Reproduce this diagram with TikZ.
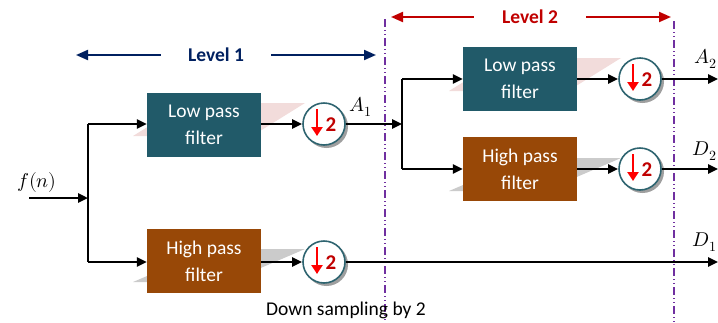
\documentclass[tikz,border=0pt]{standalone}
\usepackage{fontspec}
\usepackage{unicode-math}
\setmathfont{Latin Modern Math}
\setsansfont{Carlito}
\usetikzlibrary{arrows.meta,calc}
\definecolor{lowcol}{HTML}{215A69}
\definecolor{highcol}{HTML}{984807}
\definecolor{ringcol}{HTML}{2E6470}
\definecolor{navycol}{HTML}{002060}
\definecolor{darkred}{HTML}{C00000}
\definecolor{violetcol}{HTML}{7030A0}
\definecolor{pinkshade}{HTML}{F2DCDB}
\definecolor{greyshade}{HTML}{CBCBCB}
\tikzset{
  filterbox/.style={minimum width=114pt, minimum height=64pt, inner sep=0pt,
    text=white, align=center, font=\sffamily\fontsize{19.5}{27}\selectfont},
  lowbox/.style={filterbox, fill=lowcol},
  highbox/.style={filterbox, fill=highcol},
  ring/.style={circle, draw=ringcol, line width=1.6pt, fill=white,
    minimum size=42pt, inner sep=0pt},
  flow/.style={line width=2.4pt, -{Triangle[length=10pt,width=9pt]}},
  wire/.style={line width=2.4pt},
  levelline/.style={line width=2pt, -{Triangle[length=12pt,width=10pt]}},
  levellabel/.style={font=\sffamily\bfseries\fontsize{19.5}{22}\selectfont},
  divider/.style={violetcol, line width=1.1pt,
    dash pattern=on 8pt off 3pt on 1pt off 3pt on 1pt off 3pt},
  sig/.style={font=\fontsize{20}{22}\selectfont, inner sep=1pt},
  downarrow/.style={red, line width=2.6pt, -{Triangle[length=9pt,width=11pt]}},
  two/.style={text=darkred, font=\sffamily\bfseries\fontsize{21}{22}\selectfont, inner sep=0pt}
}
% down-sampler: ring with shadow, red arrow and a bold 2
\newcommand{\downsampler}[2]{%
  \fill[gray!75] (#2) ++(2.5,2.5) circle (21.5pt);
  \node[ring] (#1) at (#2) {};
  \draw[downarrow] ($(#1.center)+(-7,-15)$) -- ($(#1.center)+(-7,12)$);
  \node[two] (#1two) at ($(#1.center)+(7,1)$) {2};
}
\begin{document}
\begin{tikzpicture}[x=1pt,y=-1pt]
\useasboundingbox (0,0) rectangle (718,322);

% level dividers
\coordinate (divAtop) at (385,19);
\coordinate (divAbot) at (385,322);
\coordinate (divBtop) at (674,21);
\coordinate (divBbot) at (674,322);
\draw[divider] (divAtop) -- (divAbot);
\draw[divider] (divBtop) -- (divBbot);

% level headings
\node[levellabel, text=navycol] (lev1) at (216,55) {Level 1};
\coordinate (lev1L) at (76,55);
\coordinate (lev1R) at (376,55);
\draw[levelline, navycol] ($(lev1.west)+(-24,0)$) -- (lev1L);
\draw[levelline, navycol] ($(lev1.east)+(24,0)$) -- (lev1R);
\node[levellabel, text=darkred] (lev2) at (530,17) {Level 2};
\coordinate (lev2L) at (391,17);
\coordinate (lev2R) at (671,17);
\draw[levelline, darkred] ($(lev2.west)+(-25,0)$) -- (lev2L);
\draw[levelline, darkred] ($(lev2.east)+(25,0)$) -- (lev2R);

% skewed shadows behind the filter boxes
\fill[pinkshade] (133,136) -- (186,103) -- (305,103) -- (252,136) -- cycle;
\fill[greyshade] (133,282) -- (210,249) -- (305,249) -- (228,282) -- cycle;
\fill[pinkshade] (449,91) -- (502,58) -- (621,58) -- (568,91) -- cycle;
\fill[greyshade] (449,191) -- (526,158) -- (621,158) -- (544,191) -- cycle;

% filter boxes
\node[lowbox]  (lp1) at (204,124.5) {Low pass\\filter};
\node[highbox] (hp1) at (204,261)   {High pass\\filter};
\node[lowbox]  (lp2) at (520,79)    {Low pass\\filter};
\node[highbox] (hp2) at (520,169)   {High pass\\filter};

% down-samplers
\downsampler{ds1}{324,124}
\downsampler{ds2}{324,262}
\downsampler{ds3}{640,79}
\downsampler{ds4}{640,169}

% level 1 wiring
\node[sig] (fin) at (37,182) {$f(n)$};
\coordinate (src) at (29,198);
\coordinate (split1) at (88,198);
\coordinate (split1t) at (88,124);
\coordinate (split1b) at (88,262);
\draw[flow] (src) -- (split1);
\draw[wire] (split1t) -- (split1b);
\draw[flow] (split1t) -- (split1t -| lp1.west);
\draw[flow] (split1b) -- (split1b -| hp1.west);
\draw[flow] (lp1.east |- ds1) -- (ds1.west);
\draw[flow] (hp1.east |- ds2) -- (ds2.west);

% level 2 wiring
\coordinate (split2) at (402,124);
\coordinate (split2t) at (402,79);
\coordinate (split2b) at (402,169);
\draw[flow] (ds1.east) -- (split2);
\draw[wire] (split2t) -- (split2b);
\draw[flow] (split2t) -- (lp2.west);
\draw[flow] (split2b) -- (hp2.west);
\draw[flow] (lp2.east) -- (ds3.west);
\draw[flow] (hp2.east) -- (ds4.west);

% outputs
\coordinate (outA2) at (718,79);
\coordinate (outD2) at (718,169);
\coordinate (outD1) at (718,262);
\draw[flow] (ds3.east) -- (outA2);
\draw[flow] (ds4.east) -- (outD2);
\draw[flow] (ds2.east) -- (outD1);

% signal labels
\node[sig] (a1) at (361,107) {$A_1$};
\node[sig, anchor=east] (a2) at (718,59)  {$A_2$};
\node[sig, anchor=east] (d2) at (718,151) {$D_2$};
\node[sig, anchor=east] (d1) at (718,242) {$D_1$};

\node[font=\sffamily\fontsize{19.5}{22}\selectfont] (cap) at (346,310) {Down sampling by 2};
\end{tikzpicture}
\end{document}
